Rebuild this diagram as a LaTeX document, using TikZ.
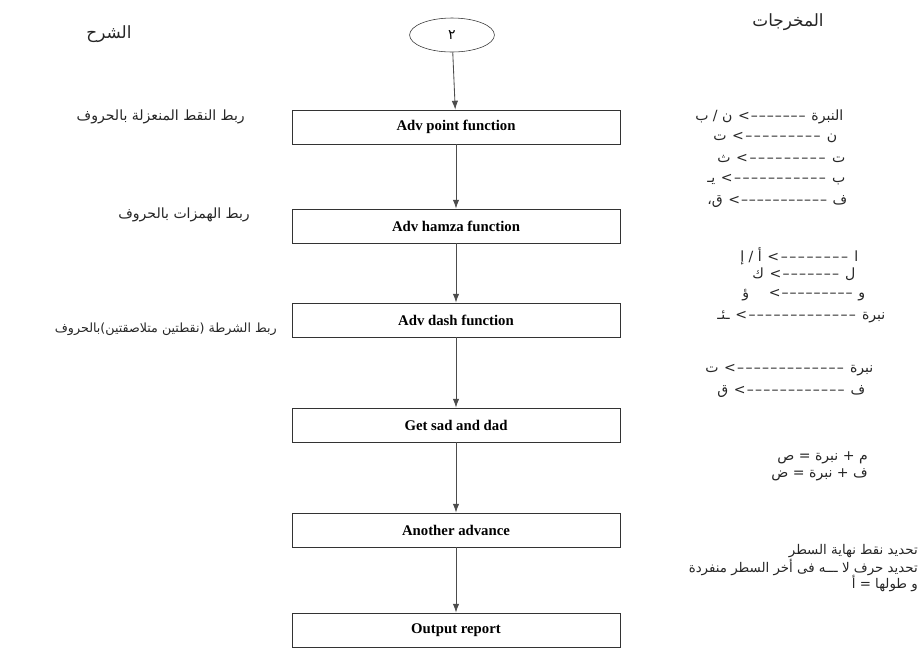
\documentclass[tikz,border=0pt]{standalone}
\usepackage{fontspec}
\setmainfont{Liberation Serif}
\newfontfamily\arabicfont[Script=Arabic]{DejaVu Sans}
\newfontfamily\dashfont[Ligatures=TeXOff]{DejaVu Sans}
\TeXXeTstate=1
\usetikzlibrary{shapes.geometric,arrows.meta}
\newlength\pxu
\setlength\pxu{0.025cm}
\newcommand\ar[1]{{\arabicfont\beginR #1\endR}}
% one mapping line: width in px, left letter, right letter
\newcommand\mapline[3]{\hbox to #1\pxu{{\arabicfont #2}\hskip4pt{\dashfont<}\xleaders\hbox{\dashfont\kern0.6pt–}\hfill\hskip4pt{\arabicfont #3}}}

\begin{document}
\begin{tikzpicture}[
    x=0.025cm, y=-0.025cm,
    box/.style={draw=black!80, line width=0.6pt, minimum width=8.2cm, minimum height=0.85cm, font=\bfseries\fontsize{10.5}{12}\selectfont},
    arr/.style={-{Latex[length=2.2mm,width=1.6mm]}, black!70, line width=0.6pt},
    lbl/.style={font=\fontsize{10}{12}\selectfont, text=black!85, inner sep=0pt},
    mapl/.style={lbl, anchor=west},
    head/.style={lbl, font=\fontsize{12}{14}\selectfont},
    note/.style={lbl, anchor=east, font=\fontsize{9.5}{11}\selectfont}
]
\useasboundingbox (0,0) rectangle (920,660);

\node[head] (hsharh) at (109,34) {\ar{الشرح}};
\node[head] (hout) at (788,22) {\ar{المخرجات}};

\node[ellipse, draw=black!80, minimum width=2.12cm, minimum height=0.85cm] (start) at (452,35) {\ar{٢}};
\node[box] (point) at (456,127) {Adv point function};
\node[box] (hamza) at (456,226) {Adv hamza function};
\node[box] (dash) at (456,320) {Adv dash function};
\node[box] (sad) at (456,425) {Get sad and dad};
\node[box] (adv) at (456,530) {Another advance};
\node[box] (report) at (456,630) {Output report};

\draw[arr] (start) -- (point);
\draw[arr] (point) -- (hamza);
\draw[arr] (hamza) -- (dash);
\draw[arr] (dash) -- (sad);
\draw[arr] (sad) -- (adv);
\draw[arr] (adv) -- (report);

\node[lbl, anchor=east] (l1) at (245,117) {\ar{ربط النقط المنعزلة بالحروف}};
\node[lbl, anchor=east] (l2) at (250,215) {\ar{ربط الهمزات بالحروف}};
\node[lbl, anchor=east, font=\fontsize{9}{11}\selectfont] (l3) at (277,329) {\ar{ربط الشرطة (نقطتين متلاصقتين)بالحروف}};

\node[mapl] (o1) at (695,117) {\mapline{148}{\beginR ن / ب\endR}{النبرة}};
\node[mapl] (o2) at (713,138) {\mapline{124}{ت}{ن}};
\node[mapl] (o3) at (717,158) {\mapline{128}{ث}{ت}};
\node[mapl] (o4) at (707,180) {\mapline{138}{يـ}{ب}};
\node[mapl] (o5) at (707,202) {\mapline{140}{ق،}{ف}};

\node[mapl] (o6) at (740,256) {\mapline{118}{\beginR أ / إ\endR}{ا}};
\node[mapl] (o7) at (752,274) {\mapline{103}{ك}{ل}};
\node[mapl] (o8) at (742,295) {\mapline{123}{ؤ\quad}{و}};
\node[mapl] (o9) at (717,317) {\mapline{168}{ـئـ}{نبرة}};

\node[mapl] (o10) at (705,370) {\mapline{168}{ت}{نبرة}};
\node[mapl] (o11) at (717,392) {\mapline{148}{ق}{ف}};

\node[lbl, anchor=east] (o12) at (868,458) {\ar{م + نبرة = ص}};
\node[lbl, anchor=east] (o13) at (868,475) {\ar{ف + نبرة = ض}};

\node[note] (o14) at (918,551) {\ar{تحديد نقط نهاية السطر}};
\node[note] (o15) at (918,567) {\ar{تحديد حرف لا ـــه فى أخر السطر منفردة}};
\node[note] (o16) at (918,583) {\ar{و طولها = أ}};
\end{tikzpicture}
\end{document}
